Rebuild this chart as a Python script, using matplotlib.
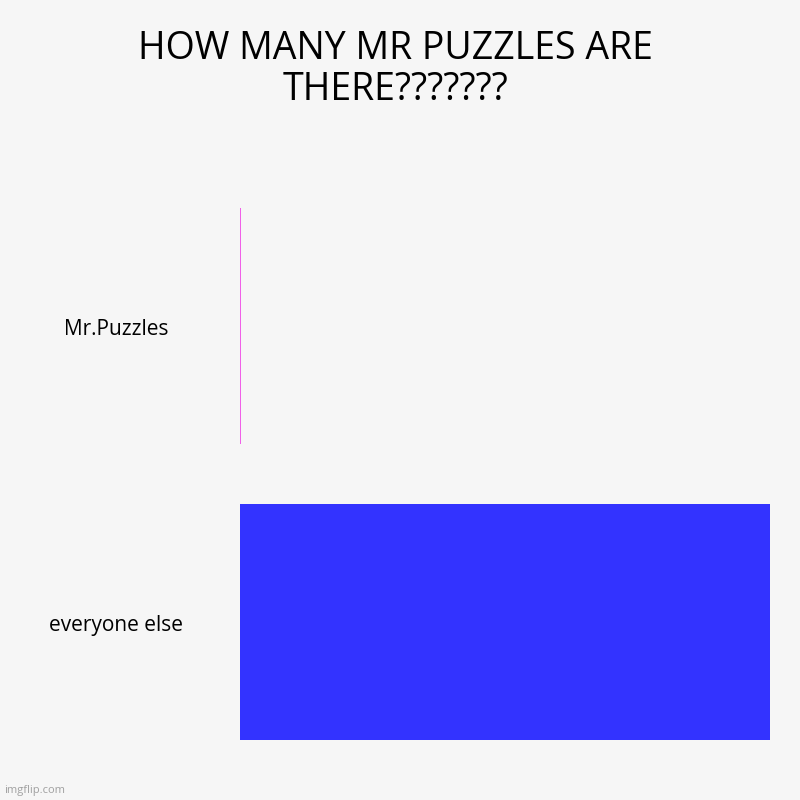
import matplotlib.pyplot as plt
import matplotlib.transforms as mtransforms

# data
categories = ["Mr.Puzzles", "everyone else"]
values = [1, 400]
colors = ["#f060e8", "#3333ff"]

plt.rcParams['font.family'] = ['Open Sans', 'DejaVu Sans']

fig = plt.figure(figsize=(8, 8), dpi=100)
fig.patch.set_facecolor("#f6f6f6")

ax = fig.add_axes([0.3, 0.0375, 0.6625, 0.74])
ax.set_facecolor("#f6f6f6")

ypos = list(range(len(categories)))
ax.barh(ypos, values, height=0.794, color=colors, linewidth=0)
ax.set_xlim(0, max(values))
ax.set_ylim(1.5, -0.5)

for s in ax.spines.values():
    s.set_visible(False)
ax.set_xticks([])
ax.set_yticks([])

# category labels
trans = mtransforms.blended_transform_factory(fig.transFigure, ax.transData)
for y, lab in zip(ypos, categories):
    ax.text(116 / 800, y + 0.012, lab, transform=trans, ha="center", va="center",
            fontsize=15, color="#000000")

fig.text(0.494, 0.913, "HOW MANY MR PUZZLES ARE\nTHERE???????", ha="center", va="center",
         fontsize=27, color="#000000", linespacing=1.12)

fig.text(4 / 800, 9 / 800, "imgflip.com", ha="left", va="center", fontsize=8, color="#a0a0a0")

fig.savefig("out.png", dpi=100, facecolor=fig.get_facecolor())
